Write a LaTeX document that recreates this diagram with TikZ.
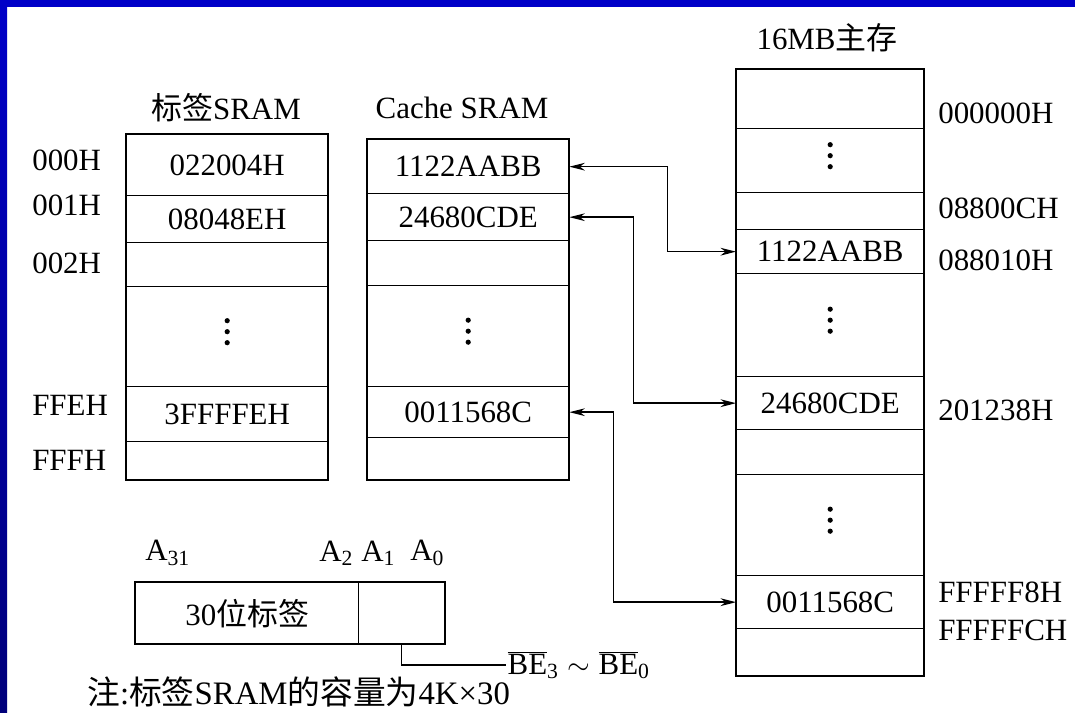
\documentclass[tikz,border=0pt]{standalone}
\usepackage{fontspec}
\setmainfont{Liberation Serif}
\newfontfamily\cjk{Noto Sans CJK SC}
\usetikzlibrary{arrows.meta}
\definecolor{slideBlue}{HTML}{0000C8}
\definecolor{slideNavy}{HTML}{00007A}

\begin{document}
\begin{tikzpicture}[x=0.025cm, y=-0.025cm,
  every node/.style={font=\fontsize{22}{26}\selectfont},
  cell/.style={draw, line width=0.95pt, inner sep=0pt, anchor=north west},
  frame/.style={draw, line width=1.4pt},
  link/.style={line width=1pt, {Stealth[length=11pt,width=5.5pt,inset=3.5pt]}-{Stealth[length=11pt,width=5.5pt,inset=3.5pt]}},
  addr/.style={anchor=west, inner sep=0pt}]
  \useasboundingbox (0,0) rectangle (1075,712);
  \fill[slideBlue] (0,0) rectangle (1075,7);
  \shade[top color=slideBlue, bottom color=slideNavy] (0,0) rectangle (7,712);

  % tag SRAM
  \node (tagtitle) at (226,108) {{\cjk 标签}SRAM};
  \foreach \n/\ya/\yb/\txt in {t0/134/195/022004H, t1/195/242/08048EH, t2/242/286/{}, t3/286/386/{}, t4/386/441/3FFFFEH, t5/441/479/{}}
    \node[cell, minimum width=5.025cm, minimum height={(\yb-\ya)*0.025cm}] (\n) at (126,\ya) {\txt};
  \draw[frame] (t0.north west) rectangle (t5.south east);
  \node[addr] (addr000) at (32,160) {000H};
  \node[addr] (addr001) at (32,205) {001H};
  \node[addr] (addr002) at (32,263) {002H};
  \node[addr] (addrFFE) at (32,405) {FFEH};
  \node[addr] (addrFFF) at (32,460) {FFFH};

  % cache SRAM
  \node (cachetitle) at (462,108) {Cache SRAM};
  \foreach \n/\ya/\yb/\txt in {c0/139/193/1122AABB, c1/193/240/24680CDE, c2/240/285/{}, c3/285/386/{}, c4/386/437/0011568C, c5/437/479/{}}
    \node[cell, minimum width=5.025cm, minimum height={(\yb-\ya)*0.025cm}] (\n) at (367,\ya) {\txt};
  \draw[frame] (c0.north west) rectangle (c5.south east);

  % main memory
  \node (maintitle) at (827,38) {16MB{\cjk 主存}};
  \foreach \n/\ya/\yb/\txt in {m0/69/128/{}, m1/128/192/{}, m2/192/229/{}, m3/229/273/1122AABB, m4/273/376/{}, m5/376/429/24680CDE, m6/429/474/{}, m7/474/575/{}, m8/575/628/0011568C, m9/628/675/{}}
    \node[cell, minimum width=4.675cm, minimum height={(\yb-\ya)*0.025cm}] (\n) at (736,\ya) {\txt};
  \draw[frame] (m0.north west) rectangle (m9.south east);
  \node[addr] (addr000000) at (938,113) {000000H};
  \node[addr] (addr08800C) at (938,208) {08800CH};
  \node[addr] (addr088010) at (938,260) {088010H};
  \node[addr] (addr201238) at (938,410) {201238H};
  \node[addr] (addrFFFFF8) at (938,592) {FFFFF8H};
  \node[addr] (addrFFFFFC) at (938,630) {FFFFFCH};

  % vertical dots
  \foreach \n in {t3,c3,m1,m4,m7}
    \foreach \d in {-16,-5,6}
      \fill (\n.center) ++(0,\d) circle (2.6);

  \draw[link] (c0.east) -- ++(98,0) |- (m3.west);
  \draw[link] (c1.east) -- ++(64,0) |- (m5.west);
  \draw[link] (c4.east) -- ++(44,0) |- (m8.west);

  % address register
  \node[cell, minimum width=5.575cm, minimum height=1.525cm] (regtag) at (135,582) {30{\cjk 位标签}};
  \node[cell, minimum width=2.15cm, minimum height=1.525cm] (reglow) at (358,582) {};
  \draw[frame] (regtag.north west) rectangle (reglow.south east);
  \node[addr] (bit31) at (145,553) {A\textsubscript{31}};
  \node[addr] (bit2) at (319,553) {A\textsubscript{2}};
  \node[addr] (bit1) at (361,553) {A\textsubscript{1}};
  \node[addr] (bit0) at (410,553) {A\textsubscript{0}};
  \node[addr, inner sep=1pt] (be) at (506,665) {$\overline{\mbox{BE}}$\textsubscript{3}\;$\sim$\;$\overline{\mbox{BE}}$\textsubscript{0}};
  \draw[line width=1pt] (reglow.south) |- (be.west);

  \node[addr, font=\fontsize{23.3}{27}\selectfont] (note) at (87,692) {{\cjk 注}:{\cjk 标签}SRAM{\cjk 的容量为}4K×30};
\end{tikzpicture}
\end{document}
